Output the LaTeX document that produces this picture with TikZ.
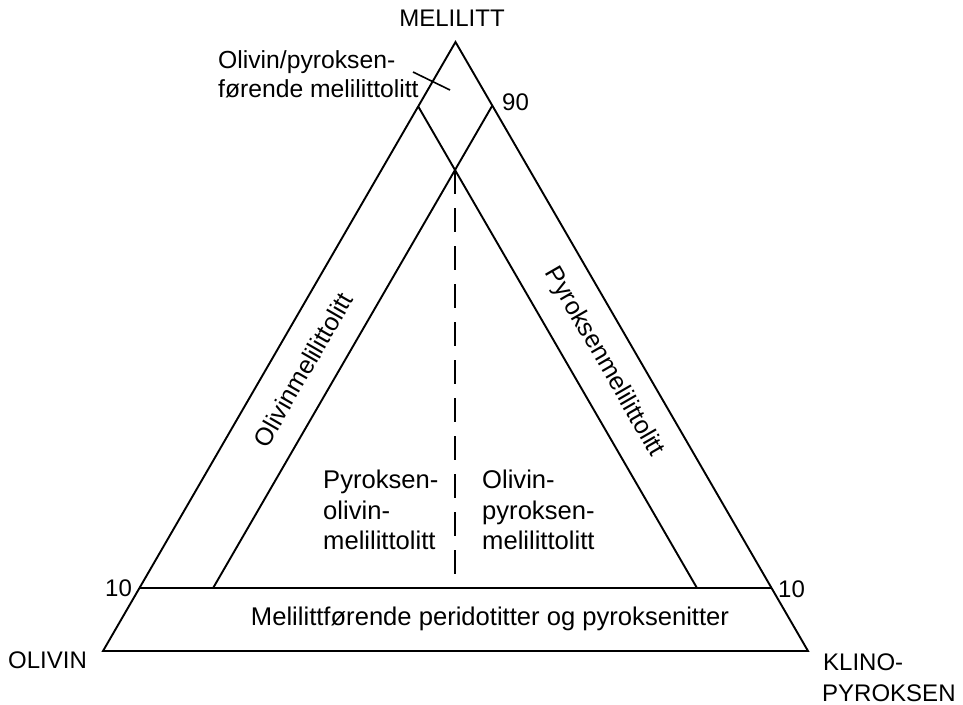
\documentclass[tikz,border=0pt]{standalone}
\usepackage{fontspec}
\setmainfont{Liberation Sans}
\usetikzlibrary{calc}
\begin{document}
\begin{tikzpicture}[x=1pt,y=-1pt,
  edge/.style={line width=1.9pt,line join=miter},
  lbl/.style={inner sep=0pt,font=\fontsize{24}{29.5}\selectfont},
  lblml/.style={lbl,align=left,font=\fontsize{24}{30.5}\selectfont},
  field/.style={font=\fontsize{25.6}{30.5}\selectfont}]
\useasboundingbox[fill=white] (0,0) rectangle (963,704);
% corners of the ternary diagram
\coordinate (O) at (103,651);
\coordinate (K) at (808,651);
\coordinate (M) at (455.5,42);
% crossing point of the two inner boundaries
\coordinate (X) at (455,170);
\coordinate (Xl) at ($(X)+(M)-(O)$);
\coordinate (Xr) at ($(X)+(M)-(K)$);
% 10 % melilite level
\coordinate (B1) at (0,588);
\coordinate (B2) at (900,588);
\coordinate (Ktop) at (intersection of X--Xl and M--K);
\coordinate (Otop) at (intersection of X--Xr and M--O);
\coordinate (Kbot) at (intersection of X--Xl and B1--B2);
\coordinate (Obot) at (intersection of X--Xr and B1--B2);
\coordinate (Lten) at (intersection of O--M and B1--B2);
\coordinate (Rten) at (intersection of K--M and B1--B2);
\coordinate (Xbot) at (455,588);
\coordinate (T1) at (413,72);
\coordinate (T2) at (450,90);
% outline and field boundaries
\draw[edge] (O) -- (M) -- (K) -- cycle;
\draw[edge] (Lten) -- (Rten);
\draw[edge] (Otop) -- (Obot);
\draw[edge] (Ktop) -- (Kbot);
\draw[edge,dash pattern=on 24pt off 14pt] (X) -- (Xbot);
\draw[line width=1.6pt] (T1) -- (T2);
% corner and scale labels
\node[lbl,anchor=base] (mel) at (452,26) {MELILITT};
\node[lbl,anchor=base west] (ol) at (8,668) {OLIVIN};
\node[lbl,anchor=base west] (kp1) at (823,670) {KLINO-};
\node[lbl,anchor=base west] (kp2) at (822,701) {PYROKSEN};
\node[lbl,anchor=base west] (n90) at (502,110) {90};
\node[lbl,anchor=base west] (n10l) at (105,596) {10};
\node[lbl,anchor=base west] (n10r) at (778,597) {10};
% field names
\node[lblml,anchor=north west,font=\fontsize{24.7}{29.5}\selectfont] (top) at (218,50) {Olivin/pyroksen-\\førende melilittolitt};
\node[lbl,rotate=60,font=\fontsize{25}{30}\selectfont] (olm) at (303,370) {Olivinmelilittolitt};
\node[lbl,rotate=-60,font=\fontsize{25}{30}\selectfont] (pym) at (604,362) {Pyroksenmelilittolitt};
\node[lblml,field,anchor=north west] (pom) at (323,470) {Pyroksen-\\olivin-\\melilittolitt};
\node[lblml,field,anchor=north west] (opm) at (482,470) {Olivin-\\pyroksen-\\melilittolitt};
\node[lbl,field,anchor=base] (bot) at (490,625) {Melilittførende peridotitter og pyroksenitter};
\end{tikzpicture}
\end{document}
